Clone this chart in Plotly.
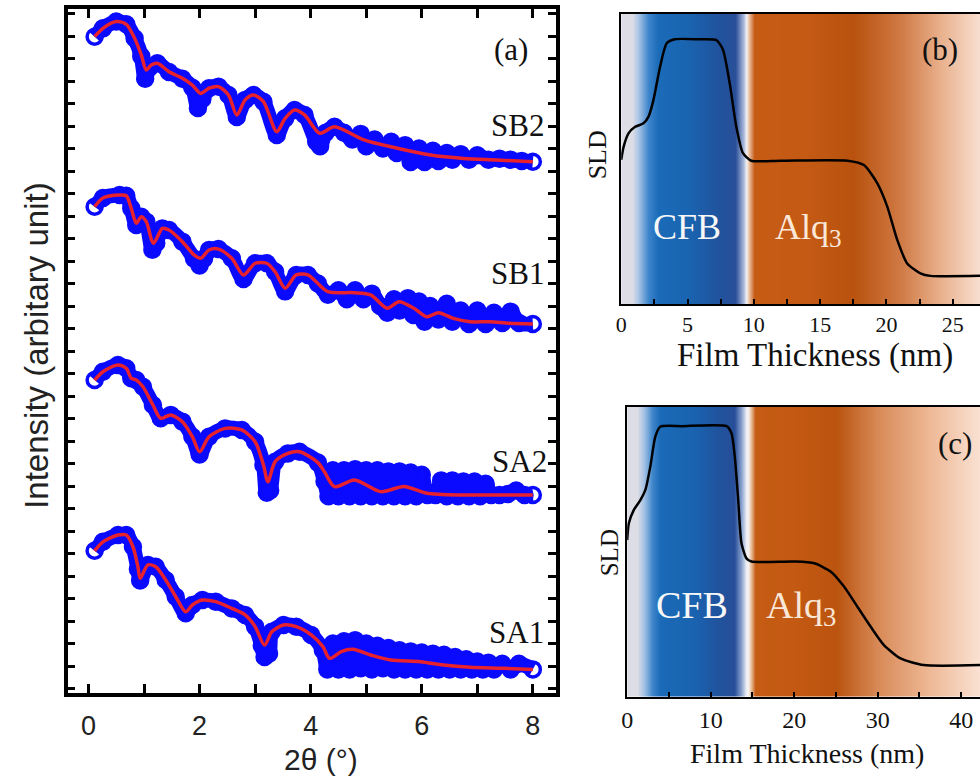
import plotly.graph_objects as go

# ---------------- Panel (a): XRR data (2theta in degrees, offset log intensity, arbitrary) ----------------
sb2_fit_x = [0.11,0.26,0.50,0.68,0.83,0.95,1.04,1.13,1.24,1.45,1.69,1.87,2.02,2.17,2.34,2.52,2.67,2.82,2.97,3.15,3.39,3.54,3.71,3.89,4.16,4.43,4.96,5.56,6.16,6.75,7.34,8.0]
sb2_fit_y = [29.17,29.54,29.84,29.72,29.10,28.36,27.69,27.91,27.99,27.61,27.32,27.02,26.65,26.88,26.95,26.58,25.69,26.36,26.58,26.28,24.95,25.54,25.91,25.69,24.88,25.17,24.58,24.21,23.91,23.76,23.69,23.61]
sb2_meas_x = [0.11,0.26,0.50,0.68,0.83,0.95,1.02,1.10,1.24,1.45,1.69,1.87,1.97,2.05,2.17,2.34,2.52,2.67,2.82,2.97,3.15,3.39,3.54,3.71,3.89,4.10,4.17,4.27,4.43,4.60,4.75,4.90,5.00,5.15,5.30,5.45,5.55,5.70,5.80,5.95,6.05,6.20,6.30,6.45,6.55,6.70,6.85,7.00,7.20,7.40,7.60,7.80,8.00]
sb2_meas_y = [29.17,29.54,29.84,29.72,29.10,28.30,27.30,27.80,27.99,27.60,27.30,26.90,26.00,26.40,26.88,26.95,26.58,25.60,26.36,26.58,26.28,24.80,25.54,25.91,25.69,24.50,24.30,24.90,25.17,24.90,24.60,24.85,24.30,24.60,24.20,24.50,24.00,24.35,23.60,24.20,23.60,24.10,23.65,24.00,23.70,23.95,23.70,23.90,23.70,23.75,23.70,23.65,23.61]

sb1_fit_x = [0.11,0.26,0.56,0.68,0.77,0.86,0.95,1.04,1.17,1.33,1.45,1.69,1.90,2.02,2.17,2.34,2.58,2.79,3.00,3.21,3.36,3.54,3.74,3.95,4.13,4.31,4.79,5.08,5.38,5.59,5.86,6.09,6.30,6.57,6.87,7.23,7.58,8.00]
sb1_fit_y = [21.61,22.00,22.13,22.10,21.54,20.88,21.17,20.95,19.99,20.65,20.58,20.06,19.47,19.32,19.69,19.73,19.32,18.58,19.10,19.10,18.72,17.99,18.58,18.58,18.20,17.84,17.79,17.69,17.10,17.39,17.10,16.72,16.90,16.65,16.50,16.50,16.43,16.40]
sb1_meas_x = [0.11,0.26,0.56,0.68,0.77,0.86,0.95,1.04,1.15,1.22,1.33,1.45,1.69,1.90,2.00,2.08,2.17,2.34,2.58,2.79,3.00,3.21,3.36,3.54,3.74,3.95,4.13,4.31,4.50,4.65,4.80,4.95,5.10,5.25,5.38,5.50,5.60,5.75,5.85,5.95,6.05,6.15,6.30,6.45,6.55,6.70,6.85,7.00,7.15,7.30,7.45,7.60,7.75,8.00]
sb1_meas_y = [21.61,22.00,22.13,22.10,21.54,20.80,21.17,20.95,19.70,20.00,20.65,20.58,20.06,19.30,19.00,19.30,19.69,19.73,19.32,18.40,19.10,19.10,18.72,17.85,18.58,18.58,18.20,17.70,17.90,17.50,17.90,17.50,17.75,17.20,16.90,17.50,17.00,17.55,16.80,17.40,16.50,17.20,16.60,17.30,16.50,17.00,16.40,17.00,16.40,16.90,16.45,16.95,16.45,16.40]

sa2_fit_x = [0.11,0.26,0.53,0.68,0.77,0.86,0.98,1.16,1.30,1.48,1.69,1.87,2.00,2.17,2.46,2.76,3.00,3.15,3.23,3.36,3.59,3.80,4.13,4.25,4.43,4.79,5.26,5.68,6.09,6.75,7.34,8.00]
sa2_fit_y = [13.91,14.28,14.58,14.43,13.99,13.91,13.61,12.80,12.21,12.36,12.06,11.39,10.72,11.39,11.76,11.69,11.17,10.13,9.39,10.28,10.65,10.72,10.24,9.82,9.17,9.47,8.95,9.18,8.88,8.80,8.80,8.80]
sa2_meas_x = [0.11,0.26,0.53,0.68,0.77,0.86,0.98,1.16,1.30,1.48,1.69,1.87,2.00,2.17,2.46,2.76,3.00,3.15,3.21,3.27,3.36,3.59,3.80,4.13,4.25,4.32,4.40,4.50,4.60,4.70,4.80,4.90,5.00,5.10,5.20,5.30,5.40,5.50,5.60,5.70,5.80,5.90,6.00,6.10,6.25,6.35,6.45,6.55,6.65,6.75,6.85,6.95,7.05,7.15,7.25,7.40,7.55,7.70,7.85,8.00]
sa2_meas_y = [13.91,14.28,14.58,14.43,13.99,13.91,13.61,12.80,12.21,12.36,12.06,11.39,10.60,11.39,11.76,11.69,11.17,10.13,8.90,9.00,10.28,10.65,10.72,10.24,9.40,8.75,9.90,8.75,9.90,8.75,9.95,8.75,9.90,8.75,9.90,8.75,9.85,8.75,9.85,8.75,9.80,8.75,9.70,8.80,8.80,9.45,8.75,9.45,8.75,9.40,8.75,9.40,8.75,9.30,8.80,8.80,8.85,9.00,8.80,8.80]

sa1_fit_x = [0.11,0.26,0.53,0.68,0.80,0.89,0.93,1.07,1.21,1.39,1.57,1.75,1.87,2.05,2.29,2.58,2.82,3.00,3.17,3.30,3.51,3.74,4.01,4.22,4.34,4.55,4.76,5.08,5.44,5.98,6.39,6.87,7.46,8.00]
sa1_fit_y = [6.32,6.72,7.02,7.02,6.50,5.61,5.10,5.69,5.61,5.02,4.28,3.61,3.91,4.13,4.06,3.76,3.47,2.95,2.13,2.72,3.02,2.95,2.58,2.06,1.54,1.84,1.94,1.69,1.47,1.39,1.24,1.14,1.10,1.05]
sa1_meas_x = [0.11,0.26,0.53,0.68,0.80,0.89,0.93,1.07,1.21,1.39,1.57,1.75,1.87,2.05,2.29,2.58,2.82,3.00,3.12,3.17,3.25,3.30,3.51,3.74,4.01,4.22,4.30,4.40,4.50,4.60,4.70,4.80,4.90,5.00,5.10,5.20,5.30,5.40,5.50,5.60,5.70,5.80,5.90,6.00,6.10,6.20,6.30,6.40,6.50,6.60,6.70,6.80,6.90,7.00,7.10,7.20,7.30,7.45,7.60,7.75,8.00]
sa1_meas_y = [6.32,6.72,7.02,7.02,6.50,5.50,5.00,5.69,5.61,5.02,4.28,3.55,3.91,4.13,4.06,3.76,3.47,2.95,2.10,1.60,1.75,2.72,3.02,2.95,2.58,1.90,1.05,2.20,1.05,2.30,1.05,2.35,1.10,2.20,1.05,2.10,1.10,2.00,1.05,1.90,1.05,1.85,1.05,1.80,1.05,1.75,1.05,1.70,1.05,1.60,1.05,1.50,1.05,1.40,1.05,1.35,1.05,1.30,1.05,1.30,1.05]

sample_names = ["SB2", "SB1", "SA2", "SA1"]
label_x = [7.73, 7.73, 7.76, 7.70]
label_y = [25.2, 18.65, 10.28, 2.67]

# ---------------- Panels (b), (c): SLD profiles (film thickness nm, SLD arbitrary) ----------------
b_x = [0.0,0.18,0.56,1.05,1.68,2.06,2.43,2.93,3.43,4.05,5.81,7.18,7.68,8.18,8.68,9.18,9.80,12.06,17.06,18.30,19.31,20.06,20.81,21.56,22.56,23.31,27.05]
b_y = [4.97,5.42,5.89,6.11,6.23,6.46,7.03,8.18,8.99,9.13,9.13,9.10,8.76,7.61,6.11,5.20,4.94,4.94,4.94,4.79,4.16,3.36,2.21,1.40,1.06,0.97,0.97]
c_x = [0.0,0.20,0.80,1.58,2.18,2.77,3.37,3.96,6.55,11.90,12.50,12.89,13.30,13.69,14.29,14.88,20.04,22.42,24.40,25.99,27.58,29.17,30.75,32.74,35.51,42.26]
c_y = [5.40,5.98,6.44,6.78,7.13,7.93,8.97,9.31,9.33,9.33,9.08,8.28,6.78,5.29,4.77,4.66,4.66,4.60,4.31,3.79,3.10,2.41,1.78,1.32,1.09,1.09]

# background colour bands (layer colours along thickness)
grad_b_pos = [0, 0.8, 1.3, 2.0, 2.8, 5.0, 7.5, 8.6, 9.2, 9.45, 9.6, 10.0, 14, 17.5, 21, 24, 27.1]
grad_b_col = ['#dddde6', '#dddde6', '#a9c5e6', '#3d85cc', '#1a6bb8', '#1a64b0', '#21529c', '#2a4f98', '#a8b8da',
              '#f4f2f2', '#eecbb0', '#c65b14', '#c45a14', '#b8520e', '#d07a45', '#e9b08b', '#f8e0d2']
grad_c_pos = [0, 1.2, 2.0, 3.0, 4.0, 8.0, 11.0, 12.8, 13.6, 14.3, 14.5, 14.8, 15.3, 20, 25, 30, 36, 42.3]
grad_c_col = ['#dddde6', '#dddde6', '#9fc0e4', '#3f86cc', '#1a6ab7', '#1a63b0', '#21529c', '#274e98', '#8aa2cf',
              '#eef0f6', '#f6f0ee', '#e8b890', '#c55c14', '#c35912', '#bb5410', '#d88a57', '#eeb895', '#fae2d4']

BLUE = '#0a0aff'
RED = '#e8222c'
SERIF = 'Liberation Serif'
SANS = 'Liberation Sans'

fig = go.Figure()


def gradient(pos, cols, xa, ya):
    n = len(pos)
    idx = list(range(n))
    cs = [[i / (n - 1), c] for i, c in enumerate(cols)]
    fig.add_trace(go.Heatmap(x=pos, y=[0, 10], z=[idx, idx], colorscale=cs, zmin=0, zmax=n - 1,
                             zsmooth='best', showscale=False, hoverinfo='skip', xaxis=xa, yaxis=ya))


gradient(grad_b_pos, grad_b_col, 'x2', 'y2')
gradient(grad_c_pos, grad_c_col, 'x3', 'y3')

fig.add_trace(go.Scatter(x=b_x, y=b_y, mode='lines', line=dict(color='black', width=2.5, shape='spline', smoothing=0.6),
                         xaxis='x2', yaxis='y2', hoverinfo='skip'))
fig.add_trace(go.Scatter(x=c_x, y=c_y, mode='lines', line=dict(color='black', width=2.5, shape='spline', smoothing=0.6),
                         xaxis='x3', yaxis='y3', hoverinfo='skip'))

meas = [(sb2_meas_x, sb2_meas_y), (sb1_meas_x, sb1_meas_y), (sa2_meas_x, sa2_meas_y), (sa1_meas_x, sa1_meas_y)]
fits = [(sb2_fit_x, sb2_fit_y), (sb1_fit_x, sb1_fit_y), (sa2_fit_x, sa2_fit_y), (sa1_fit_x, sa1_fit_y)]
for (mx, my) in meas:
    fig.add_trace(go.Scatter(x=mx, y=my, mode='lines+markers',
                             line=dict(color=BLUE, width=15, shape='spline', smoothing=0.8),
                             marker=dict(symbol='circle-open', size=15, color=BLUE, line=dict(width=3.5, color=BLUE)),
                             xaxis='x', yaxis='y', hoverinfo='skip'))
for (fx, fy) in fits:
    fig.add_trace(go.Scatter(x=fx, y=fy, mode='lines',
                             line=dict(color=RED, width=3.5, shape='spline', smoothing=0.8),
                             xaxis='x', yaxis='y', hoverinfo='skip'))


def px(x):
    return x / 980.0


def py(y):
    return 1 - y / 778.0


def ann(x, y, text, size, family, color='#111', angle=0, ref='paper'):
    return dict(x=x, y=y, xref=ref if ref == 'paper' else 'x', yref=ref if ref == 'paper' else 'y',
                text=text, showarrow=False, xanchor='center', yanchor='middle', textangle=angle,
                font=dict(family=family, size=size, color=color))


annotations = []
for name, lx, ly in zip(sample_names, label_x, label_y):
    annotations.append(ann(lx, ly, name, 31, SERIF, ref='data'))
annotations.append(ann(7.6, 28.58, '(a)', 31, SERIF, ref='data'))
annotations.append(ann(px(30), py(346), 'Intensity (arbitary unit)', 33, SANS, '#222', -90))
annotations.append(ann(px(317), py(759), '2θ (°)', 30, SANS, '#222'))
# panel b
annotations += [
    ann(px(940), py(50), '(b)', 31, SERIF),
    ann(px(685), py(227), 'CFB', 36, SERIF, '#f7f7f7'),
    ann(px(807), py(230), 'Alq<sub>3</sub>', 36, SERIF, '#fbe7d8'),
    ann(px(595), py(155), 'SLD', 26, SERIF, '#111', -90),
    ann(px(814), py(355), 'Film Thickness (nm)', 33, SERIF),
]
# panel c
annotations += [
    ann(px(955), py(443), '(c)', 31, SERIF),
    ann(px(690), py(605), 'CFB', 38, SERIF, '#f7f7f7'),
    ann(px(800), py(608), 'Alq<sub>3</sub>', 38, SERIF, '#fbe7d8'),
    ann(px(607), py(553), 'SLD', 25, SERIF, '#111', -90),
    ann(px(806), py(753), 'Film Thickness (nm)', 28, SERIF),
]

fig.update_layout(
    width=980, height=778, margin=dict(l=0, r=0, t=0, b=0),
    paper_bgcolor='white', plot_bgcolor='white', showlegend=False,
    annotations=annotations,
    xaxis=dict(domain=[px(62), px(553)], range=[-0.376, 8.41], anchor='y',
               tick0=0, dtick=2, ticks='inside', ticklen=9, tickwidth=2.5, tickcolor='black',
               minor=dict(dtick=1, ticks='inside', ticklen=9, tickwidth=2.5, tickcolor='black'),
               showline=True, linewidth=3.5, linecolor='black', mirror='allticks',
               showgrid=False, zeroline=False, ticklabelstandoff=6,
               tickfont=dict(family=SANS, size=27, color='#222')),
    yaxis=dict(domain=[py(693), py(9)], range=[0, 30.4], anchor='x',
               tick0=0.2, dtick=1, ticks='inside', ticklen=8, tickwidth=2.5, tickcolor='black',
               showticklabels=False, showline=True, linewidth=3.5, linecolor='black', mirror='allticks',
               showgrid=False, zeroline=False),
    xaxis2=dict(domain=[px(619), 1.0], range=[0, 27.05], anchor='y2',
                tick0=0, dtick=5, ticks='inside', ticklen=5, tickwidth=1.5, tickcolor='black',
                minor=dict(dtick=2.5, ticks='inside', ticklen=5, tickwidth=1.5, tickcolor='black'),
                showline=True, linewidth=2, linecolor='black', mirror=True,
                showgrid=False, zeroline=False,
                tickfont=dict(family=SERIF, size=22, color='#111')),
    yaxis2=dict(domain=[py(304), py(14)], range=[0, 10], anchor='x2',
                showticklabels=False, ticks='', showline=True, linewidth=2, linecolor='black',
                showgrid=False, zeroline=False),
    xaxis3=dict(domain=[px(625), 1.0], range=[0, 42.26], anchor='y3',
                tick0=0, dtick=10, ticks='inside', ticklen=5, tickwidth=1.5, tickcolor='black',
                minor=dict(dtick=5, ticks='inside', ticklen=5, tickwidth=1.5, tickcolor='black'),
                showline=True, linewidth=2, linecolor='black', mirror=True,
                showgrid=False, zeroline=False,
                tickfont=dict(family=SERIF, size=24, color='#111')),
    yaxis3=dict(domain=[py(696.7), py(406.7)], range=[0, 10], anchor='x3',
                showticklabels=False, ticks='', showline=True, linewidth=2, linecolor='black',
                showgrid=False, zeroline=False),
)

fig.write_html("out.html")
